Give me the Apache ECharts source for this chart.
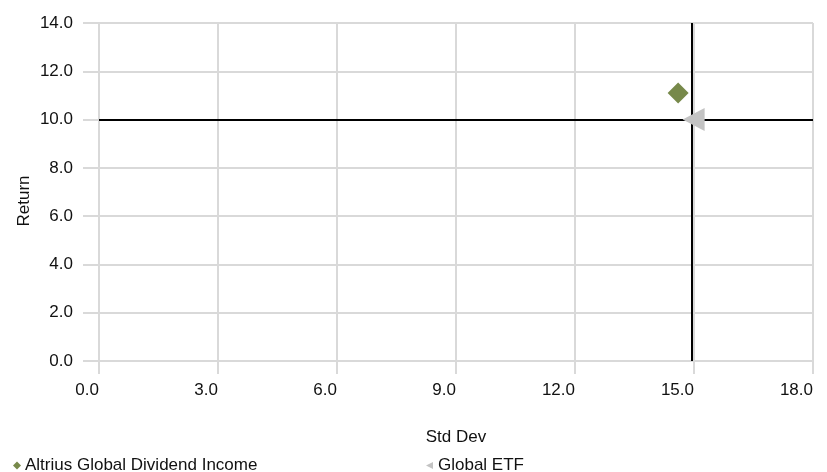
<!DOCTYPE html>
<html>
<head>
<meta charset="utf-8">
<script src="https://cdn.jsdelivr.net/npm/echarts@6/dist/echarts.min.js"></script>
<style>html,body{margin:0;padding:0;background:#fff}#c{width:827px;height:472px}</style>
</head>
<body>
<div id="c"></div>
<script>
var seriesNames = ['Altrius Global Dividend Income', 'Global ETF'];
var fundPoint = [14.6, 11.1];
var etfPoint = [14.99, 10.0];
var avgStdDev = 14.94;
var avgReturn = 10.0;
var xTicks = { min: 0, max: 18, interval: 3 };
var yTicks = { min: 0, max: 14, interval: 2 };

var FONT = '"Liberation Sans", Arial, sans-serif';
var FS = 17;
var TXT = '#111';
var leftTri = 'path://M0,5 L10,0 L10,10 Z';
var chart = echarts.init(document.getElementById('c'), null, { renderer: 'canvas' });
chart.setOption({
  animation: false,
  textStyle: { fontFamily: FONT },
  grid: { left: 99, right: 14, top: 23, bottom: 111 },
  legend: [{
    data: [{ name: seriesNames[0], icon: 'diamond' }], left: 8, top: 452, itemWidth: 8, itemHeight: 8, itemGap: 0,
    textStyle: { fontFamily: FONT, fontSize: FS, color: TXT, padding: [0, 0, 0, -1] }
  }, {
    data: [{ name: seriesNames[1], icon: leftTri }], left: 421, top: 452, itemWidth: 7, itemHeight: 8,
    textStyle: { fontFamily: FONT, fontSize: FS, color: TXT, padding: [0, 0, 0, 0] }
  }],
  xAxis: {
    type: 'value', min: xTicks.min, max: xTicks.max, interval: xTicks.interval,
    name: 'Std Dev', nameLocation: 'middle', nameGap: 68,
    nameTextStyle: { fontFamily: FONT, fontSize: FS, color: TXT },
    axisLine: { show: false },
    axisTick: { show: true, length: 13, lineStyle: { color: '#d9d9d9', width: 2 } },
    splitLine: { show: true, lineStyle: { color: '#d9d9d9', width: 2 } },
    axisLabel: { fontFamily: FONT, fontSize: FS, color: TXT, margin: 21, align: 'right',
      formatter: function (v) { return v.toFixed(1); } }
  },
  yAxis: {
    type: 'value', min: yTicks.min, max: yTicks.max, interval: yTicks.interval,
    name: 'Return', nameLocation: 'middle', nameGap: 66, nameMoveOverlap: false,
    nameTextStyle: { fontFamily: FONT, fontSize: FS, color: TXT, padding: [0, 18, 0, 0] },
    axisLine: { show: false },
    axisTick: { show: true, length: 16, lineStyle: { color: '#d9d9d9', width: 2 } },
    splitLine: { show: true, lineStyle: { color: '#d9d9d9', width: 2 } },
    axisLabel: { fontFamily: FONT, fontSize: FS, color: TXT, margin: 26,
      formatter: function (v) { return v.toFixed(1); } }
  },
  series: [{
    name: seriesNames[0], type: 'scatter', symbol: 'diamond', symbolSize: [21, 21], z: 5,
    itemStyle: { color: '#77894a', opacity: 1 },
    data: [fundPoint]
  }, {
    name: seriesNames[1], type: 'scatter', symbol: leftTri, symbolSize: [22, 23], z: 4,
    itemStyle: { color: '#c3c3c3', opacity: 1 },
    data: [etfPoint]
  }, {
    name: 'avg', type: 'scatter', data: [], z: 2, silent: true,
    markLine: {
      silent: true, symbol: 'none', animation: false, z: 2,
      label: { show: false },
      lineStyle: { color: '#000', width: 2, type: 'solid', opacity: 1 },
      emphasis: { disabled: true },
      data: [{ xAxis: avgStdDev }, { yAxis: avgReturn }]
    }
  }]
});
</script>
</body>
</html>
